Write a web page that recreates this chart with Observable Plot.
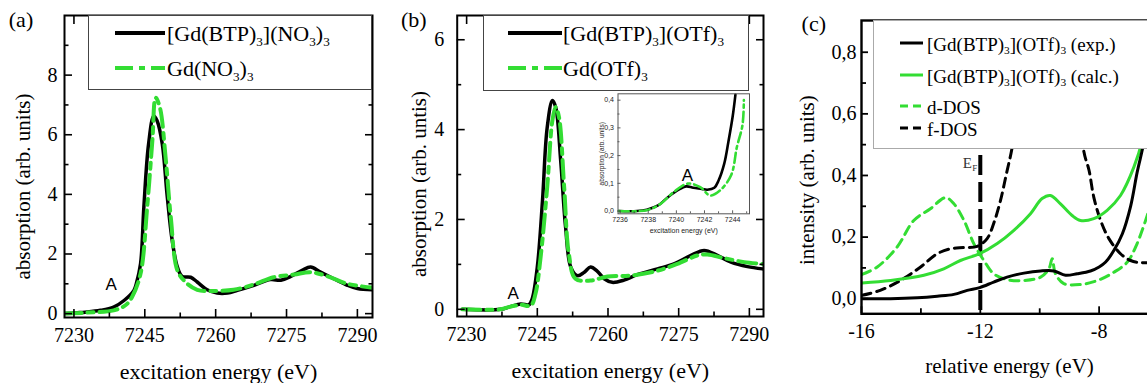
<!DOCTYPE html>
<html><head><meta charset="utf-8">
<script src="https://cdn.jsdelivr.net/npm/d3@7"></script>
<script src="https://cdn.jsdelivr.net/npm/@observablehq/plot@0.6"></script>
<style>
html,body{margin:0;padding:0;background:#fff;overflow:hidden;}
#root{position:relative;width:1147px;height:383px;overflow:hidden;font-family:"Liberation Serif","Times New Roman",Times,"DejaVu Serif",serif;background:#fff;}
.pan{position:absolute;top:0;}
.legend{position:absolute;background:#fff;box-sizing:border-box;}
.ltxt{position:absolute;white-space:nowrap;line-height:1;transform:translateY(-50%);color:#000;font-family:"Liberation Serif","Times New Roman",Times,"DejaVu Serif",serif;}
.ltxt sub{font-size:0.6em;vertical-align:-0.35em;line-height:0;}
</style></head><body><div id="root"></div>
<script>
// ---------------- data ----------------
// panel (a)
const aComplex = [[7227.8,0],[7230.7,0.03],[7232.4,0.05],[7235.6,0.11],[7238.4,0.22],[7240.6,0.44],[7242.7,0.78],[7243.2,1.0],[7244.1,1.67],[7244.8,3.57],[7245.8,5.69],[7246.9,6.63],[7247.6,6.47],[7248.7,5.69],[7249.7,4.01],[7250.8,2.45],[7251.9,1.56],[7252.9,1.25],[7254.7,1.22],[7256.1,1.06],[7258.2,0.80],[7260.3,0.69],[7262.5,0.69],[7264.6,0.78],[7268.1,0.95],[7271.6,1.14],[7273.8,1.12],[7275.9,1.25],[7278.3,1.45],[7280.1,1.56],[7282.2,1.39],[7285.0,1.17],[7287.9,0.95],[7290.0,0.84],[7293.2,0.80]];
const aSalt = [[7227.8,0],[7232.4,0.03],[7238.4,0.11],[7240.9,0.28],[7242.3,0.56],[7244.1,1.34],[7245.5,3.57],[7246.6,5.80],[7247.3,7.24],[7248.2,6.91],[7249.4,5.24],[7250.5,3.23],[7251.9,1.45],[7253.6,1.06],[7256.1,0.80],[7258.9,0.76],[7263.8,0.80],[7268.1,0.98],[7272.3,1.22],[7276.6,1.31],[7280.1,1.39],[7283.7,1.25],[7287.9,1.00],[7293.2,0.87]];
// panel (b)
const bComplex = [[7229.1,0],[7237.2,0],[7239.3,0.06],[7241.5,0.12],[7243.2,0.10],[7243.9,0.23],[7245.0,0.94],[7246.1,2.42],[7247.1,4.05],[7248.2,4.65],[7248.9,4.50],[7249.96,3.31],[7251.0,1.83],[7252.1,0.94],[7253.5,0.75],[7254.9,0.82],[7256.3,0.94],[7257.7,0.85],[7259.2,0.68],[7260.9,0.60],[7263.4,0.65],[7266.2,0.77],[7270.5,0.90],[7274.0,1.01],[7277.6,1.20],[7280.4,1.31],[7283.2,1.20],[7286.1,1.05],[7289.6,0.95],[7292.8,0.90]];
const bSalt = [[7229.1,0],[7237.2,0],[7239.3,0.06],[7241.5,0.10],[7243.6,0.08],[7244.6,0.34],[7245.7,1.16],[7247.1,2.72],[7248.2,4.20],[7248.9,4.50],[7249.6,4.28],[7250.7,2.72],[7251.7,1.23],[7253.1,0.68],[7256.3,0.64],[7259.9,0.73],[7264.8,0.75],[7270.5,0.86],[7274.7,1.01],[7279.0,1.20],[7281.1,1.22],[7284.6,1.14],[7288.9,1.05],[7292.8,1.01]];
// inset of (b)
const inComplex = [[7235.9,0],[7237.2,0],[7237.9,0.005],[7238.7,0.02],[7239.4,0.05],[7240.1,0.075],[7240.7,0.089],[7241.2,0.084],[7241.8,0.08],[7242.2,0.077],[7242.7,0.084],[7243.0,0.11],[7243.4,0.17],[7243.7,0.25],[7244.0,0.34],[7244.2,0.42]];
const inSalt = [[7235.9,0],[7237.9,0.003],[7238.9,0.027],[7239.8,0.068],[7240.8,0.099],[7241.7,0.086],[7242.4,0.056],[7243.1,0.074],[7243.9,0.13],[7244.3,0.23],[7244.7,0.31],[7244.8,0.40]];
// panel (c)
const cExp = [[-15.98,0],[-15.02,0],[-14.12,0.003],[-13.45,0.008],[-12.89,0.014],[-12.44,0.027],[-12.02,0.036],[-11.55,0.054],[-11.1,0.07],[-10.53,0.083],[-9.97,0.09],[-9.52,0.09],[-9.13,0.076],[-8.74,0.081],[-8.29,0.09],[-8.0,0.103],[-7.78,0.119],[-7.5,0.157],[-7.22,0.21],[-6.94,0.30],[-6.72,0.41],[-6.49,0.51],[-6.36,0.61]];
const cCalc = [[-15.98,0.051],[-15.02,0.059],[-13.9,0.076],[-13.23,0.097],[-12.67,0.124],[-12.02,0.146],[-11.43,0.179],[-10.87,0.222],[-10.31,0.276],[-9.92,0.325],[-9.64,0.335],[-9.3,0.308],[-8.91,0.27],[-8.63,0.254],[-8.18,0.26],[-7.73,0.287],[-7.28,0.335],[-6.83,0.427],[-6.55,0.514],[-6.44,0.59]];
const cDdos = [[-15.98,0.079],[-15.47,0.103],[-14.8,0.168],[-14.24,0.254],[-13.68,0.292],[-13.17,0.328],[-12.89,0.308],[-12.55,0.254],[-12.22,0.179],[-11.88,0.124],[-11.55,0.081],[-11.1,0.062],[-10.53,0.059],[-9.97,0.07],[-9.69,0.097],[-9.58,0.13],[-9.47,0.081],[-9.19,0.049],[-8.63,0.046],[-8.06,0.059],[-7.5,0.086],[-7.05,0.119],[-6.72,0.179],[-6.36,0.276]];
const cFdos = [[-15.98,0.011],[-15.37,0.027],[-14.69,0.059],[-14.01,0.103],[-13.45,0.146],[-13.0,0.162],[-12.55,0.166],[-12.1,0.17],[-11.77,0.195],[-11.55,0.244],[-11.32,0.319],[-11.12,0.406],[-10.93,0.49],[-10.75,0.62],[-10.55,0.85],[-10.35,1.05],[-9.0,1.05],[-8.75,0.72],[-8.51,0.476],[-8.34,0.417],[-8.18,0.33],[-7.95,0.254],[-7.67,0.195],[-7.28,0.146],[-6.94,0.124],[-6.61,0.117],[-6.36,0.117]];
const fermi = [-12];
// ticks
const xTicksAB = [7230, 7245, 7260, 7275, 7290];
const xMinorAB = [7237.5, 7252.5, 7267.5, 7282.5];
const yTicksA = [0, 2, 4, 6, 8];
const yMinorA = [1, 3, 5, 7, 9];
const yTicksB = [0, 2, 4, 6];
const yMinorB = [1, 3, 5];
const xTicksIn = [7236, 7238, 7240, 7242, 7244];
const xMinorIn = [7237, 7239, 7241, 7243, 7245];
const yTicksIn = [0, 0.1, 0.2, 0.3, 0.4];
const yMinorIn = [0.05, 0.15, 0.25, 0.35];
const xTicksC = [-16, -12, -8];
const xMinorC = [-14, -10];
const yTicksC = [0, 0.2, 0.4, 0.6, 0.8];
const yMinorC = [0.1, 0.3, 0.5, 0.7];
// annotations
const annA = [{x: 7237.9, y: 0.98, t: "A"}];
const annB = [{x: 7239.9, y: 0.34, t: "A"}];
const annIn = [{x: 7240.78, y: 0.128, t: "A"}];
const annEF = [{x: -12.44, y: 0.441, t: "E", s: "F"}];

// ---------------- helpers ----------------
const SERIF = '"Liberation Serif", "Times New Roman", Times, "DejaVu Serif", serif';
const SANS = '"Liberation Sans", Arial, "DejaVu Sans", sans-serif';
const GREEN = "#33dd33";
const comma = d => d.toFixed(1).replace(".", ",");
const plain = d => String(d).replace("\u2212", "-");
const X = d => d[0], Y = d => d[1];

function tk(axis, anchor, ticks, len, sw, stroke = "black") {
  const off = {bottom: {dy: -len}, top: {dy: len}, left: {dx: len}, right: {dx: -len}}[anchor];
  return axis({ticks, anchor, tickSize: len, tickFormat: () => "", label: null, strokeWidth: sw, stroke, ...off});
}
function axesMarks({xt, xm, yt, ym, fx = plain, fy = plain, mirror, big = 8, small = 4.5, fs = 20, padX = 10, padY = 7, sw = 1.6, stroke = "black", font = SERIF}) {
  const m = [
    Plot.axisX({ticks: xt, tickSize: 0, tickPadding: padX, tickFormat: fx, fontSize: fs, fontFamily: font, label: null}),
    Plot.axisY({ticks: yt, tickSize: 0, tickPadding: padY, tickFormat: fy, fontSize: fs, fontFamily: font, label: null})
  ];
  for (const a of (mirror ? ["bottom", "top"] : ["bottom"])) { m.push(tk(Plot.axisX, a, xt, big, sw, stroke)); if (xm) m.push(tk(Plot.axisX, a, xm, small, sw, stroke)); }
  for (const a of (mirror ? ["left", "right"] : ["left"])) { m.push(tk(Plot.axisY, a, yt, big, sw, stroke)); if (ym) m.push(tk(Plot.axisY, a, ym, small, sw, stroke)); }
  return m;
}
const lab = (s, o) => Plot.text([s], {textAnchor: "middle", lineAnchor: "middle", fontFamily: SERIF, ...o});
const root = document.getElementById("root");
function place(svg, left, top) { svg.classList.add("pan"); svg.style.left = left + "px"; svg.style.top = top + "px"; root.appendChild(svg); }
const serif = {fontFamily: SERIF, fontSize: "20px", color: "black", background: "transparent", overflow: "visible"};

// ---------------- panel (a) ----------------
place(Plot.plot({
  width: 390, height: 383, marginLeft: 64, marginRight: 18, marginTop: 15, marginBottom: 66,
  x: {domain: [7228, 7293.2]}, y: {domain: [-0.13, 10]}, style: serif,
  marks: [
    Plot.line(aComplex, {x: X, y: Y, stroke: "black", strokeWidth: 3.5, curve: "catmull-rom", clip: true}),
    Plot.line(aSalt, {x: X, y: Y, stroke: GREEN, strokeWidth: 4, strokeDasharray: "18,6,6,6", curve: "catmull-rom", clip: true}),
    Plot.text(annA, {x: "x", y: "y", text: "t", fontFamily: SANS, fontSize: 17}),
    ...axesMarks({xt: xTicksAB, xm: xMinorAB, yt: yTicksA, ym: yMinorA, mirror: true, padY: 7}),
    Plot.frame({stroke: "black", strokeWidth: 2}),
    lab("excitation energy (eV)", {frameAnchor: "bottom", dy: 54, fontSize: 22}),
    lab("absorption (arb. units)", {frameAnchor: "left", rotate: -90, dx: -41, dy: 20, fontSize: 21}),
    lab("(a)", {frameAnchor: "top-left", dx: -43.5, dy: 4.5, fontSize: 22})
  ]
}), 0, 0);

// ---------------- panel (b) ----------------
place(Plot.plot({
  width: 400, height: 383, marginLeft: 66.7, marginRight: 27, marginTop: 15, marginBottom: 67,
  x: {domain: [7228, 7293]}, y: {domain: [-0.16, 6.54]}, style: serif,
  marks: [
    Plot.line(bComplex, {x: X, y: Y, stroke: "black", strokeWidth: 3.5, curve: "catmull-rom", clip: true}),
    Plot.line(bSalt, {x: X, y: Y, stroke: GREEN, strokeWidth: 4, strokeDasharray: "18,6,6,6", curve: "catmull-rom", clip: true}),
    Plot.text(annB, {x: "x", y: "y", text: "t", fontFamily: SANS, fontSize: 17}),
    ...axesMarks({xt: xTicksAB, xm: xMinorAB, yt: yTicksB, ym: yMinorB, mirror: true, padY: 13}),
    Plot.frame({stroke: "black", strokeWidth: 2}),
    lab("excitation energy (eV)", {frameAnchor: "bottom", dy: 54, fontSize: 22}),
    lab("absorption (arb. untis)", {frameAnchor: "left", rotate: -90, dx: -38, dy: 18, fontSize: 21}),
    lab("(b)", {frameAnchor: "top-left", dx: -43.4, dy: 4, fontSize: 22})
  ]
}), 390, 0);

// ---------------- inset ----------------
place(Plot.plot({
  width: 170, height: 152, marginLeft: 32.5, marginRight: 6, marginTop: 7.3, marginBottom: 24.7,
  x: {domain: [7235.85, 7245.2]}, y: {domain: [-0.01, 0.423]},
  style: {fontFamily: SANS, fontSize: "7px", color: "#222", background: "white"},
  marks: [
    Plot.line(inComplex, {x: X, y: Y, stroke: "black", strokeWidth: 2.6, curve: "catmull-rom", clip: true}),
    Plot.line(inSalt, {x: X, y: Y, stroke: GREEN, strokeWidth: 2.6, strokeDasharray: "10,4,3,4", curve: "catmull-rom", clip: true}),
    Plot.text(annIn, {x: "x", y: "y", text: "t", fontFamily: SANS, fontSize: 17, fill: "black"}),
    ...axesMarks({xt: xTicksIn, xm: xMinorIn, yt: yTicksIn, ym: yMinorIn, fy: comma, mirror: false, big: 3, small: 2, fs: 7, padX: 3, padY: 4, sw: 0.8, stroke: "#333", font: SANS}),
    Plot.frame({stroke: "#555", strokeWidth: 1}),
    lab("excitation energy (eV)", {frameAnchor: "bottom", dy: 17, fontSize: 7, fontFamily: SANS}),
    lab("absorption (arb. units)", {frameAnchor: "left", rotate: -90, dx: -16.5, fontSize: 6.5, fontFamily: SANS})
  ]
}), 585, 86);

// ---------------- panel (c) ----------------
place(Plot.plot({
  width: 360, height: 383, marginLeft: 71, marginRight: 0, marginTop: 20, marginBottom: 69.7,
  x: {domain: [-16, -6.27]}, y: {domain: [-0.049, 0.903]}, style: serif,
  marks: [
    Plot.ruleX(fermi, {stroke: "black", strokeWidth: 4, strokeDasharray: "20,7"}),
    Plot.line(cDdos, {x: X, y: Y, stroke: GREEN, strokeWidth: 3, strokeDasharray: "9,6", curve: "catmull-rom", clip: true}),
    Plot.line(cFdos, {x: X, y: Y, stroke: "black", strokeWidth: 3, strokeDasharray: "9,6", curve: "catmull-rom", clip: true}),
    Plot.line(cCalc, {x: X, y: Y, stroke: GREEN, strokeWidth: 3, curve: "catmull-rom", clip: true}),
    Plot.line(cExp, {x: X, y: Y, stroke: "black", strokeWidth: 3, curve: "catmull-rom", clip: true}),
    Plot.text(annEF, {x: "x", y: "y", text: "t", fontSize: 15, fill: "#333", fontFamily: SERIF}),
    Plot.text(annEF, {x: "x", y: "y", text: "s", fontSize: 9, fill: "#333", dx: 7.5, dy: 5.5, fontFamily: SERIF}),
    ...axesMarks({xt: xTicksC, xm: xMinorC, yt: yTicksC, ym: yMinorC, fy: comma, mirror: false, big: 7, small: 5, padX: 10, padY: 5, sw: 1.8}),
    Plot.frame({stroke: "black", strokeWidth: 2.4}),
    lab("relative energy (eV)", {frameAnchor: "bottom", dx: 3.5, dy: 52, fontSize: 21}),
    lab("intensity (arb. units)", {frameAnchor: "left", rotate: -90, dx: -54.5, dy: 13, fontSize: 21}),
    lab("(c)", {frameAnchor: "top-left", dx: -47.7, dy: 3, fontSize: 22})
  ]
}), 790, 0);

// ---------------- legends (HTML overlays) ----------------
function addLegend(cfg) {
  const box = document.createElement("div");
  box.className = "legend";
  Object.assign(box.style, {left: cfg.left + "px", top: cfg.top + "px", width: cfg.w + "px", height: cfg.h + "px", border: "1px solid " + cfg.border});
  root.appendChild(box);
  for (const r of cfg.rows) {
    const ns = "http://www.w3.org/2000/svg";
    const s = document.createElementNS(ns, "svg");
    s.setAttribute("width", cfg.sw); s.setAttribute("height", 12);
    Object.assign(s.style, {position: "absolute", left: (cfg.sx - cfg.left - 1) + "px", top: (r.y - cfg.top - 1 - 6) + "px"});
    const l = document.createElementNS(ns, "line");
    l.setAttribute("x1", 0); l.setAttribute("x2", cfg.sw); l.setAttribute("y1", 6); l.setAttribute("y2", 6);
    l.setAttribute("stroke", r.stroke); l.setAttribute("stroke-width", r.width);
    if (r.dash) l.setAttribute("stroke-dasharray", r.dash);
    s.appendChild(l); box.appendChild(s);
    const t = document.createElement("div");
    t.className = "ltxt"; t.innerHTML = r.html;
    Object.assign(t.style, {left: (cfg.tx - cfg.left - 1) + "px", top: (r.y - cfg.top - 1 + cfg.dyText) + "px", fontSize: cfg.fs + "px"});
    box.appendChild(t);
  }
}
addLegend({left: 88, top: 15, w: 284, h: 75, border: "#444", sx: 115, sw: 50, tx: 167, fs: 22, dyText: 1,
  rows: [
    {y: 33, stroke: "black", width: 4, html: "[Gd(BTP)<sub>3</sub>](NO<sub>3</sub>)<sub>3</sub>"},
    {y: 68, stroke: GREEN, width: 4, dash: "18,6,6,6", html: "Gd(NO<sub>3</sub>)<sub>3</sub>"}
  ]});
addLegend({left: 483, top: 15, w: 266, h: 76, border: "#444", sx: 508, sw: 54, tx: 563, fs: 22, dyText: 1,
  rows: [
    {y: 33, stroke: "black", width: 4, html: "[Gd(BTP)<sub>3</sub>](OTf)<sub>3</sub>"},
    {y: 68, stroke: GREEN, width: 4, dash: "18,6,6,6", html: "Gd(OTf)<sub>3</sub>"}
  ]});
addLegend({left: 873, top: 20, w: 320, h: 129, border: "#aaa", sx: 900, sw: 23, tx: 927, fs: 19, dyText: 1,
  rows: [
    {y: 43, stroke: "black", width: 3, html: "[Gd(BTP)<sub>3</sub>](OTf)<sub>3</sub> (exp.)"},
    {y: 75, stroke: GREEN, width: 3, html: "[Gd(BTP)<sub>3</sub>](OTf)<sub>3</sub> (calc.)"},
    {y: 106, stroke: GREEN, width: 3, dash: "8,5", html: "d-DOS"},
    {y: 128, stroke: "black", width: 3, dash: "8,5", html: "f-DOS"}
  ]});
</script></body></html>
